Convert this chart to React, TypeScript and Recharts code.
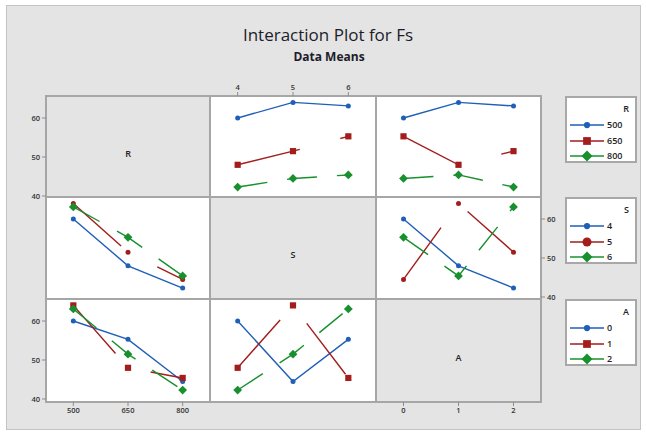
import React from 'react';
import { LineChart, Line, XAxis, YAxis } from 'recharts';

// ---- data (L9 runs) ----
const rLevels = [500, 650, 800];
const sLevels = [4, 5, 6];
const aLevels = [0, 1, 2];
const runR = [500, 500, 500, 650, 650, 650, 800, 800, 800];
const runS = [4, 5, 6, 4, 5, 6, 4, 5, 6];
const runA = [0, 1, 2, 1, 2, 0, 2, 0, 1];
const runFs = [60.0, 64.0, 63.1, 48.0, 51.5, 55.3, 42.3, 44.5, 45.4];
const yTicks = [40, 50, 60];
const factorNames = ['R', 'S', 'A'];
const title = 'Interaction Plot for Fs';
const subtitle = 'Data Means';

const factorRuns = [runR, runS, runA];
const factorLevels = [rLevels, sLevels, aLevels];

const COLORS = ['#1f5fb8', '#a31d1d', '#18902e'];
const DASHES: (string | undefined)[] = [undefined, '64 42', '30 20'];
const SHAPES = [
  ['circle', 'square', 'diamond'],
  ['circle', 'circle', 'diamond'],
  ['circle', 'square', 'diamond'],
];

const colX = [46, 210, 376];
const colW = [164, 166, 165];
const rowY = [96, 197, 299];
const rowH = [101, 102, 103];
const PXU = 3.9;
const M = 30;
const AX = 20;
const FONT = '"Open Sans", "Noto Sans", sans-serif';

function panelData(traceF: number, xF: number) {
  return factorLevels[xF].map((xv, xi) => {
    const row: any = { x: xi };
    factorLevels[traceF].forEach((tv, ti) => {
      const vals = runFs.filter(
        (_, k) => factorRuns[xF][k] === xv && factorRuns[traceF][k] === tv
      );
      row['t' + ti] = vals.length ? vals.reduce((a, b) => a + b, 0) / vals.length : null;
    });
    return row;
  });
}

function Marker({ shape, color, cx, cy, big }: any) {
  const s = big ? 1.25 : 1;
  if (shape === 'square') {
    const h = 3.1 * s;
    return <rect x={cx - h} y={cy - h} width={2 * h} height={2 * h} fill={color} />;
  }
  if (shape === 'diamond') {
    const h = 4.4 * s;
    return (
      <polygon
        points={`${cx},${cy - h} ${cx + h},${cy} ${cx},${cy + h} ${cx - h},${cy}`}
        fill={color}
      />
    );
  }
  if (shape === 'circle-big') {
    return <circle cx={cx} cy={cy} r={3.6 * s} fill={color} />;
  }
  return <circle cx={cx} cy={cy} r={2.5 * s} fill={color} />;
}

const makeDot = (shape: string, color: string) => (props: any) => {
  const { cx, cy, index } = props;
  if (cx == null || cy == null) return <g key={index} />;
  return (
    <g key={index}>
      <Marker shape={shape} color={color} cx={cx} cy={cy} />
    </g>
  );
};

function Cell({ i, j }: { i: number; j: number }) {
  const showLeft = j === 0 && (i === 0 || i === 2);
  const showRight = j === 2 && i === 1;
  const showTop = i === 0 && j === 1;
  const showBottom = i === 2 && (j === 0 || j === 2);
  const h = rowH[i];
  const w = colW[j];
  const domain = [40 - (h - 100) / PXU, 60 + 22 / PXU];
  const diag = i === j;
  const data = diag ? factorLevels[j].map((_, xi) => ({ x: xi })) : panelData(i, j);
  const levels = factorLevels[j];
  const tickStyle = { fontSize: 7.5, fill: '#333', fontFamily: FONT, fontWeight: 600 };
  return (
    <div style={{ position: 'absolute', left: colX[j] - M, top: rowY[i] - M }}>
      <LineChart
        width={w + 2 * M}
        height={h + 2 * M}
        data={data}
        margin={{
          top: showTop ? M - AX : M,
          bottom: showBottom ? M - AX : M,
          left: showLeft ? M - AX : M,
          right: showRight ? M - AX : M,
        }}
      >
        <XAxis
          dataKey="x"
          type="number"
          domain={[-0.5, 2.5]}
          ticks={[0, 1, 2]}
          allowDataOverflow
          tickFormatter={(v: number) => String(levels[v])}
          orientation={showTop ? 'top' : 'bottom'}
          hide={!(showTop || showBottom)}
          height={AX}
          axisLine={false}
          tickSize={4}
          tickMargin={2}
          tickLine={{ stroke: '#8c8c8c' }}
          tick={tickStyle}
          interval={0}
        />
        <YAxis
          type="number"
          domain={domain}
          ticks={yTicks}
          allowDataOverflow
          orientation={showRight ? 'right' : 'left'}
          hide={!(showLeft || showRight)}
          width={AX}
          axisLine={false}
          tickSize={4}
          tickMargin={2}
          tickLine={{ stroke: '#8c8c8c' }}
          tick={tickStyle}
          interval={0}
        />
        {!diag &&
          [0, 1, 2].map((t) => (
            <Line
              key={t}
              dataKey={'t' + t}
              stroke={COLORS[t]}
              strokeWidth={1.4}
              strokeDasharray={DASHES[t]}
              isAnimationActive={false}
              dot={makeDot(SHAPES[i][t], COLORS[t])}
              activeDot={false}
            />
          ))}
      </LineChart>
    </div>
  );
}

function LegendBox({ f, top }: { f: number; top: number }) {
  const offs = [27, 43, 58];
  return (
    <div
      style={{
        position: 'absolute',
        left: 565,
        top,
        width: 72,
        height: 67,
        boxSizing: 'border-box',
        border: '2px solid #a8a8a8',
        background: '#fff',
      }}
    >
      <div
        style={{
          position: 'absolute',
          right: 6,
          top: 11 - 7,
          fontSize: 9,
          lineHeight: '14px',
          fontWeight: 600,
          color: '#222',
        }}
      >
        {factorNames[f]}
      </div>
      {factorLevels[f].map((lv, t) => (
        <React.Fragment key={t}>
          <svg
            style={{ position: 'absolute', left: 1, top: offs[t] - 6 }}
            width={40}
            height={12}
          >
            <line x1={2} y1={6} x2={36} y2={6} stroke={COLORS[t]} strokeWidth={1.5} />
            <Marker shape={SHAPES[f][t] === 'circle' && t === 1 ? 'circle-big' : SHAPES[f][t]} color={COLORS[t]} cx={19} cy={6} big />
          </svg>
          <div
            style={{
              position: 'absolute',
              left: 40,
              top: offs[t] - 7,
              fontSize: 9,
              lineHeight: '14px',
              fontWeight: 600,
              color: '#222',
            }}
          >
            {lv}
          </div>
        </React.Fragment>
      ))}
    </div>
  );
}

export default function App() {
  const cells: React.ReactNode[] = [];
  for (let i = 0; i < 3; i++) for (let j = 0; j < 3; j++) cells.push(<Cell key={`${i}-${j}`} i={i} j={j} />);
  return (
    <div
      style={{
        position: 'absolute',
        left: 0,
        top: 0,
        width: 646,
        height: 434,
        background: '#fff',
        fontFamily: FONT,
        overflow: 'hidden',
      }}
    >
      <svg style={{ position: 'absolute', left: 0, top: 0 }} width={646} height={434}>
        <rect x={6.5} y={5.5} width={634} height={424} fill="#e4e4e4" stroke="#c4c4c4" />
        {[0, 1, 2].map((i) =>
          [0, 1, 2].map((j) => (
            <rect
              key={`${i}${j}`}
              x={colX[j]}
              y={rowY[i]}
              width={colW[j]}
              height={rowH[i]}
              fill={i === j ? '#e4e4e4' : '#ffffff'}
              stroke="#a6a6a6"
              strokeWidth={2}
            />
          ))
        )}
      </svg>
      {cells}
      {[0, 1, 2].map((d) => (
        <div
          key={d}
          style={{
            position: 'absolute',
            left: colX[d],
            width: colW[d],
            top: rowY[d] + rowH[d] / 2,
            textAlign: 'center',
            fontSize: 9,
            lineHeight: '14px',
            fontWeight: 600,
            color: '#222',
          }}
        >
          {factorNames[d]}
        </div>
      ))}
      <div
        style={{
          position: 'absolute',
          left: 178,
          width: 300,
          top: 24,
          textAlign: 'center',
          fontSize: 17,
          lineHeight: '22px',
          color: '#1c1c2a',
        }}
      >
        {title}
      </div>
      <div
        style={{
          position: 'absolute',
          left: 179,
          width: 300,
          top: 49,
          textAlign: 'center',
          fontSize: 12,
          lineHeight: '16px',
          fontWeight: 700,
          color: '#1c1c2a',
        }}
      >
        {subtitle}
      </div>
      <LegendBox f={0} top={96} />
      <LegendBox f={1} top={197} />
      <LegendBox f={2} top={299} />
    </div>
  );
}
